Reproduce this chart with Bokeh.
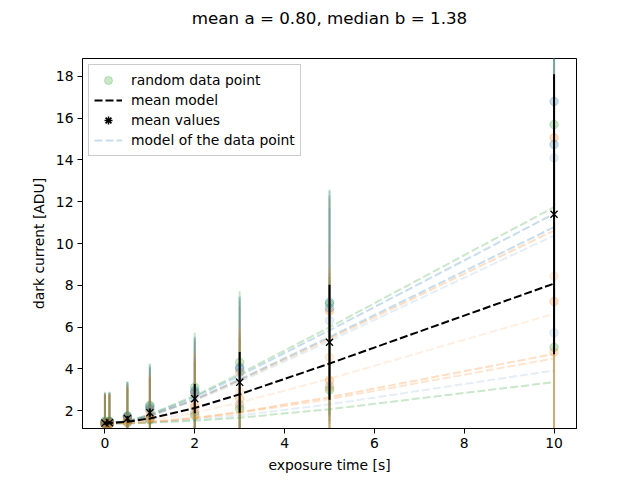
import numpy as np
from bokeh.plotting import figure
from bokeh.models import ColumnDataSource, Legend, LegendItem, Range1d, FixedTicker, Title
from bokeh.embed import file_html
from bokeh.resources import INLINE

# exposure times [s]
times = [0, 0.1, 0.5, 1, 2, 3, 5, 10]

# random data points (one list per data point series)
points_a = [1.45, 1.47, 1.72, 2.20, 2.95, 4.07, 7.19, 16.80]
points_b = [1.42, 1.45, 1.65, 2.05, 2.80, 3.83, 6.76, 15.06]
points_c = [1.50, 1.50, 1.75, 2.25, 3.12, 4.31, 7.11, 15.70]
points_d = [1.40, 1.42, 1.62, 2.00, 2.70, 3.60, 6.31, 14.10]
points_e = [1.38, 1.40, 1.55, 1.80, 2.30, 2.90, 4.55, 8.43]
points_f = [1.33, 1.35, 1.42, 1.55, 1.76, 2.08, 2.99, 5.03]
points_g = [1.42, 1.45, 1.70, 2.10, 2.88, 4.00, 6.90, 14.74]
points_h = [1.36, 1.38, 1.50, 1.70, 2.16, 2.56, 3.44, 7.22]
points_i = [1.35, 1.36, 1.45, 1.60, 1.95, 2.30, 3.20, 5.72]
points_j = [1.35, 1.37, 1.45, 1.60, 1.85, 2.20, 3.10, 4.80]

# error of the random data points at each exposure time
points_err = [1.4, 1.4, 1.65, 2.0, 2.6, 3.4, 5.4, 9.5]

# model of each data point series
model_a = [1.38, 1.385, 1.49, 1.79, 2.65, 3.67, 5.84, 11.42]
model_b = [1.38, 1.385, 1.477, 1.736, 2.52, 3.45, 5.44, 10.62]
model_c = [1.38, 1.385, 1.50, 1.81, 2.71, 3.76, 5.99, 11.74]
model_d = [1.38, 1.385, 1.473, 1.721, 2.478, 3.381, 5.33, 10.38]
model_e = [1.38, 1.382, 1.417, 1.525, 1.894, 2.385, 3.524, 6.63]
model_f = [1.38, 1.38, 1.388, 1.413, 1.51, 1.658, 2.062, 3.36]
model_g = [1.38, 1.385, 1.48, 1.75, 2.54, 3.49, 5.52, 10.78]
model_h = [1.38, 1.381, 1.398, 1.452, 1.648, 1.931, 2.641, 4.71]
model_i = [1.38, 1.38, 1.392, 1.428, 1.563, 1.765, 2.296, 3.92]
model_j = [1.38, 1.381, 1.396, 1.445, 1.624, 1.886, 2.548, 4.50]

series_points = [points_a, points_b, points_c, points_d, points_e,
                 points_f, points_g, points_h, points_i, points_j]
series_models = [model_a, model_b, model_c, model_d, model_e,
                 model_f, model_g, model_h, model_i, model_j]
series_colors = ["#1f77b4", "#ff7f0e", "#2ca02c", "#1f77b4", "#ff7f0e",
                 "#2ca02c", "#1f77b4", "#ff7f0e", "#1f77b4", "#ff7f0e"]
series_alpha = [0.25, 0.25, 0.25, 0.12, 0.12, 0.25, 0.25, 0.25, 0.12, 0.2]

# mean values and mean model
mean_vals = [1.40, 1.42, 1.62, 1.90, 2.57, 3.35, 5.27, 11.40]
mean_err = [0.08, 0.08, 0.12, 0.2, 0.7, 1.45, 2.75, 6.7]
mean_model = [1.40, 1.40, 1.46, 1.62, 2.12, 2.78, 4.25, 8.08]

title_text = "mean a = 0.80, median b = 1.38"
x_ticks = [0, 2, 4, 6, 8, 10]
y_ticks = [2, 4, 6, 8, 10, 12, 14, 16, 18]

FONT = "DejaVu Sans"
DASH = "8 3"

p = figure(width=640, height=480, output_backend="svg", toolbar_location=None,
           x_range=Range1d(-0.5, 10.5), y_range=Range1d(1.14, 18.86),
           min_border_left=82, min_border_right=64, min_border_top=58,
           min_border_bottom=52, background_fill_color="white",
           border_fill_color="white", title=None)

# spacer between frame and title
p.add_layout(Title(text=" ", text_font_size="12px", text_font=FONT), "above")
p.add_layout(Title(text=title_text, align="center", offset=-7, text_font=FONT,
                   text_font_size="16.7px", text_font_style="normal",
                   text_color="black"), "above")

renderers_scatter = []
renderers_model = []
for vals, col, a in zip(series_points, series_colors, series_alpha):
    src = ColumnDataSource(dict(
        t=times, v=vals,
        lo=[v - e for v, e in zip(vals, points_err)],
        hi=[v + e for v, e in zip(vals, points_err)]))
    p.segment(x0="t", y0="lo", x1="t", y1="hi", source=src, line_color=col,
              line_alpha=a, line_width=2)
    r = p.scatter("t", "v", source=src, size=8.5, fill_color=col, line_color=col,
                  fill_alpha=a, line_alpha=a)
    renderers_scatter.append(r)

for m, col, a in zip(series_models, series_colors, series_alpha):
    r = p.line(times, m, line_color=col, line_alpha=a, line_width=2, line_dash=DASH)
    renderers_model.append(r)

r_mean_model = p.line(times, mean_model, line_color="black", line_width=2,
                      line_dash=DASH)

msrc = ColumnDataSource(dict(
    t=times, v=mean_vals,
    lo=[v - e for v, e in zip(mean_vals, mean_err)],
    hi=[v + e for v, e in zip(mean_vals, mean_err)]))
p.segment(x0="t", y0="lo", x1="t", y1="hi", source=msrc, line_color="black",
          line_width=2)
r_mean = p.scatter("t", "v", source=msrc, marker="x", size=10, line_color="black",
                   line_width=1.3)
# legend-only glyph (zero size in the plot): x with its vertical error bar
r_mean_star = p.scatter("t", "v", source=msrc, marker="asterisk", size=0,
                        line_color="black", line_width=1.5)

legend = Legend(items=[
    LegendItem(label="random data point", renderers=[renderers_scatter[5]]),
    LegendItem(label="mean model", renderers=[r_mean_model]),
    LegendItem(label="mean values", renderers=[r_mean_star, r_mean]),
    LegendItem(label="model of the data point", renderers=[renderers_model[0]]),
], location="top_left", margin=6, padding=5, spacing=0, glyph_width=28,
    glyph_height=20, label_height=20, label_standoff=9,
    label_text_font=FONT, label_text_font_size="13.9px", label_text_color="black",
    border_line_color="#cccccc", border_line_width=1, border_line_alpha=1,
    background_fill_color="white", background_fill_alpha=0.8)
p.add_layout(legend)

p.grid.visible = False
p.outline_line_color = "black"
p.outline_line_width = 1
p.outline_line_alpha = 1

p.xaxis.ticker = FixedTicker(ticks=x_ticks)
p.yaxis.ticker = FixedTicker(ticks=y_ticks)
p.xaxis.axis_label = "exposure time [s]"
p.yaxis.axis_label = "dark current [ADU]"
for ax in (p.xaxis, p.yaxis):
    ax.axis_line_color = "black"
    ax.axis_line_width = 1
    ax.major_tick_line_color = "black"
    ax.major_tick_out = 5
    ax.major_tick_in = 0
    ax.minor_tick_out = 0
    ax.minor_tick_in = 0
    ax.major_label_text_font = FONT
    ax.major_label_text_font_size = "13.9px"
    ax.major_label_text_color = "black"
    ax.axis_label_text_font = FONT
    ax.axis_label_text_font_size = "13.9px"
    ax.axis_label_text_font_style = "normal"
    ax.axis_label_text_color = "black"
    ax.major_label_standoff = 4
    ax.axis_label_standoff = 6

open("out.html", "w").write(file_html(p, INLINE))
